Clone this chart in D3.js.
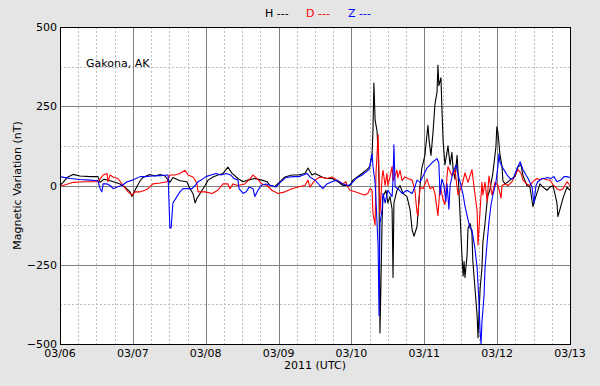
<!DOCTYPE html>
<html>
<head>
<meta charset="utf-8">
<script src="https://cdn.jsdelivr.net/npm/d3@7"></script>
<style>
	body { margin: 0; background: #e5e5e5; }
	svg { display: block; font-family: "DejaVu Sans", sans-serif; }
</style>
</head>
<body>
<div id="chart"></div>
<script>
// hours since 2011-03-06 00:00 UTC, value in nT
const station = 'Gakona, AK'
const dayLabels = ['03/06', '03/07', '03/08', '03/09', '03/10', '03/11', '03/12', '03/13']
const yTicks = [-500, -250, 0, 250, 500]
const seriesNames = ['H', 'D', 'Z']

const hData = [
	[0, 0], [1, 10], [2.3, 25], [4.3, 35], [6.6, 30], [9.9, 28], [12.5, 28], [13.2, 10], [14.5, 20],
	[16.5, 15], [18.1, 10], [19.8, 5], [21.4, -5], [23.1, -20], [23.7, -35], [24.7, -15], [26.4, 15],
	[27.3, 25], [29.6, 35], [31.3, 30], [33, 35], [34.6, 30], [36.2, 10], [37.2, 25], [39.5, 15],
	[41.8, 12], [42.8, -10], [43.8, -25], [44.5, -55], [45.1, -40], [45.5, -35], [46.8, -15], [47.8, 0],
	[48.8, 17], [50.4, 27], [52, 33], [53.7, 38], [55.3, 58], [56.7, 38], [58.6, 22], [60.3, 12],
	[61.9, 17], [64.2, 22], [66.5, 17], [68.2, 12], [69.2, 0], [70.8, -3], [72.5, 12], [74.1, 27],
	[76.4, 33], [78.4, 33], [80.7, 38], [81.7, 55], [83, 33], [84, 38], [86.3, 27], [87.9, 22],
	[89.6, 22], [91.6, 12], [93.2, 0], [94.4, 0], [95.5, 0], [96.5, 17], [98.8, 33], [101.1, 50],
	[102.1, 60], [102.8, 100], [103.1, 175], [103.4, 323], [103.8, 206], [104.4, 175], [104.8, 110],
	[105.1, 0], [105.2, -160], [105.4, -465], [105.7, -320], [106.1, -110], [106.4, -35], [107.4, -15],
	[108, -55], [108.7, -35], [109.4, -75], [109.7, -290], [110, -55], [111, -15], [112, 0], [113, -25],
	[114.3, -35], [115.3, -75], [116, -140], [116.6, -160], [117.6, -130], [117.9, -90], [118.6, 0],
	[119.2, 55], [120.2, 95], [121.2, 190], [121.6, 140], [122.2, 95], [122.9, 170], [123.5, 255],
	[124.2, 295], [124.5, 380], [124.8, 315], [125.5, 340], [125.8, 245], [126.2, 140], [126.8, 65],
	[127.5, 105], [127.8, 125], [128.5, 65], [129.1, 105], [129.5, 50], [130.1, 20], [130.8, 95],
	[131.1, 45], [131.8, -95], [132.4, -220], [132.8, -285], [133.1, -240], [133.4, -290], [134.1, -220],
	[134.4, -135], [135.1, -120], [135.7, -150], [136, -240], [136.7, -325], [137.4, -410], [137.7, -480],
	[138, -410], [138.4, -325], [139, -260], [139.3, -180], [140, -120], [140.7, -50], [141, -30],
	[141.6, -15], [142.6, 40], [143.6, 122], [143.9, 185], [144.3, 165], [144.9, 100], [145.6, 60],
	[145.9, 15], [146.6, 5], [147.6, 12], [148.9, 22], [149.9, 28], [150.9, 60], [151.9, 65],
	[152.5, 32], [153.8, 0], [154.8, -5], [155.8, -67], [156.1, -55], [157.1, -25], [158.1, 5],
	[159.1, -5], [160.4, -15], [161.4, -5], [162.4, 0], [163.7, -55], [164, -98], [164.7, -75],
	[165.7, -40], [167, -5], [168, -15]
]

const dData = [
	[0, -3], [4.3, 10], [8, 12], [12.5, 12], [13.2, 20], [14.2, 33], [15.5, 38], [15.8, 12], [16.5, 33],
	[17.5, 27], [19.1, 22], [20.8, 0], [22.4, -20], [23.7, -30], [24.7, -20], [26.4, -20], [28, -15],
	[29, -10], [30.6, 5], [33, 8], [35.3, 12], [36.2, 33], [37.9, 33], [39.5, 38], [41.2, 48], [42.2, 33],
	[43.8, 27], [44.5, 17], [45.1, 5], [45.5, -20], [47.8, -20], [50.1, -25], [52, -15], [53.7, 5],
	[55.3, 5], [56, -10], [57, 5], [58.6, 0], [60.9, 5], [62.6, 22], [63.6, 33], [64.9, 22], [66.5, 5],
	[68.2, 0], [69.8, -15], [71.8, -25], [74.1, -20], [76.4, -10], [78.4, -5], [80.7, 0], [81.7, 17],
	[82.3, -5], [84, 17], [85.6, 27], [87.9, 22], [89.6, 27], [91.2, 17], [93.2, 5], [94.2, 12],
	[94.5, 0], [95.5, -15], [97.2, -20], [98.8, -25], [100.4, -30], [101.4, -25], [102.1, -10],
	[102.8, -15], [103.1, -88], [103.8, -125], [104.1, 40], [104.8, 160], [105.4, -88], [106.1, 27],
	[106.4, 48], [107.1, 0], [107.7, 38], [108, 0], [108.7, 27], [109.4, 60], [109.7, 15], [111, 48],
	[111.3, 25], [112, 48], [112.7, 15], [113.6, 27], [114.6, 22], [116, 17], [116.9, -15], [117.6, -85],
	[117.9, -95], [118.6, -5], [119.6, -10], [120.9, 20], [121.9, -10], [122.9, -5], [123.5, -25],
	[124.5, -95], [125.2, 0], [126.2, -45], [126.8, -60], [127.5, 30], [127.8, 60], [129.1, 30],
	[130.1, 50], [131.1, -30], [132.4, 0], [133.4, 40], [134.4, 10], [135.7, 50], [136.4, -5],
	[137.4, -80], [137.7, -188], [138.4, -75], [139, 10], [139.3, -30], [140, 10], [140.7, -50],
	[141.3, 30], [142.3, -30], [143.3, 10], [144.3, 0], [145.3, -40], [145.6, 0], [146.6, 5],
	[147.6, 0], [148.9, 12], [149.9, 33], [150.9, 50], [151.9, 38], [152.5, 17], [153.8, 5],
	[154.8, 0], [155.8, 12], [157.1, 22], [158.1, 18], [159.1, 22], [160.4, 18], [161.4, 17],
	[162.4, 3], [163.7, -10], [164.7, -15], [165.7, -10], [167, 12], [168, 0]
]

const zData = [
	[0, 28], [3.3, 22], [6.6, 19], [9.9, 17], [12.5, 15], [13.2, -10], [13.8, -20], [14.2, 5],
	[15.5, 5], [16.5, 0], [17.5, -10], [18.8, -5], [20.4, 0], [22.1, 12], [24, 17], [26.4, 28],
	[28, 28], [30.3, 30], [33, 31], [35.3, 33], [35.6, 33], [36.2, -134], [36.6, -134], [37.2, -55],
	[38.5, -35], [39.5, -20], [40.5, -10], [41.8, -10], [43.5, -10], [44.5, 0], [45.5, 12], [46.5, 17],
	[48.1, 28], [49.7, 33], [51.4, 38], [53, 33], [54.7, 38], [56.3, 33], [57.3, 22], [58.6, 17],
	[59, -10], [60.3, -25], [61.3, -20], [62.3, -5], [63.6, -10], [64.2, -35], [65.2, -15], [66.2, 0],
	[67.8, 5], [69.5, 0], [71.1, -5], [72.8, 12], [74.4, 25], [76.8, 28], [78.7, 28], [80.1, 33],
	[81.4, 38], [82.3, 27], [84, 17], [85.6, 0], [86.6, -10], [87.9, 5], [89.6, 12], [91.2, 17],
	[93.2, 5], [94.9, 0], [95.9, 5], [97.5, 22], [99.5, 33], [101.8, 50], [102.8, 100], [103.1, 60],
	[103.8, 10], [104.4, -110], [104.8, -195], [105.1, -410], [105.3, -200], [105.4, -120], [106.1, -75],
	[106.4, -25], [107.1, -55], [108, -15], [109.4, -35], [109.7, 20], [110, 128], [110.4, -5],
	[111.3, -10], [112.7, -25], [114.3, -15], [116, -25], [116.9, -5], [117.6, 17], [118.6, 10],
	[119.6, 30], [120.9, 55], [121.9, 65], [122.9, 75], [124.2, 85], [124.8, 70], [125.2, -30],
	[125.8, 20], [126.5, 0], [127.1, -50], [127.5, 5], [128.1, -75], [128.5, 0], [129.5, 45],
	[130.5, 65], [131.1, 35], [132.1, 0], [132.8, -30], [133.4, -65], [134.1, -95], [135.1, -135],
	[135.7, -140], [136.7, -200], [137.4, -260], [138, -365], [138.4, -465], [138.7, -500], [139, -430],
	[139.7, -345], [140, -260], [140.7, -180], [141.3, -115], [142, -60], [142.6, -30], [143.6, 10],
	[144.3, 65], [144.6, 100], [144.9, 75], [145.6, 60], [146.2, 50], [147.3, 33], [148.3, 22],
	[149.3, 22], [150.6, 55], [151.6, 75], [152.5, 50], [153.5, 33], [154.2, 22], [155.5, -5],
	[156.1, -55], [156.8, 0], [157.4, 12], [158.8, 22], [159.7, 22], [160.7, 25], [161.7, 22],
	[162.7, 28], [163.7, 12], [165, 17], [166, 28], [167, 28], [168, 25]
]

const chart = {
	draw(element) {
		const width = 600
		const height = 386
		const margin = { top: 27, right: 30, bottom: 42, left: 60 }
		const innerW = width - margin.left - margin.right
		const innerH = height - margin.top - margin.bottom

		const svg = d3
			.select(`#${element}`)
			.append('svg')
			.attr('width', width)
			.attr('height', height)

		svg
			.append('rect')
			.attr('width', width)
			.attr('height', height)
			.attr('fill', '#e5e5e5')

		const g = svg
			.append('g')
			.attr('transform', `translate(${margin.left}, ${margin.top})`)

		const x = d3.scaleLinear().domain([0, 168]).range([0, innerW])
		const y = d3.scaleLinear().domain([-500, 500]).range([innerH, 0])

		g.append('rect')
			.attr('width', innerW)
			.attr('height', innerH)
			.attr('fill', '#fff')

		// minor grid every 6 hours / 125 nT
		const minorX = d3.range(0, 169, 6).filter(h => h % 24 !== 0)
		const minorY = [-375, -125, 125, 375]
		g.selectAll('.minor-x')
			.data(minorX)
			.enter()
			.append('line')
			.attr('x1', d => Math.round(x(d)) + 0.5)
			.attr('x2', d => Math.round(x(d)) + 0.5)
			.attr('y1', 0)
			.attr('y2', innerH)
			.attr('stroke', '#bdbdbd')
			.attr('stroke-dasharray', '2,2')
			.attr('stroke-width', 1)
		g.selectAll('.minor-y')
			.data(minorY)
			.enter()
			.append('line')
			.attr('x1', 0)
			.attr('x2', innerW)
			.attr('y1', d => Math.round(y(d)) + 0.5)
			.attr('y2', d => Math.round(y(d)) + 0.5)
			.attr('stroke', '#bdbdbd')
			.attr('stroke-dasharray', '2,2')
			.attr('stroke-width', 1)

		// major grid at days / 250 nT
		const majorX = d3.range(24, 168, 24)
		g.selectAll('.major-x')
			.data(majorX)
			.enter()
			.append('line')
			.attr('x1', d => Math.round(x(d)) + 0.5)
			.attr('x2', d => Math.round(x(d)) + 0.5)
			.attr('y1', 0)
			.attr('y2', innerH)
			.attr('stroke', '#808080')
			.attr('stroke-width', 1)
		g.selectAll('.major-y')
			.data([-250, 0, 250])
			.enter()
			.append('line')
			.attr('x1', 0)
			.attr('x2', innerW)
			.attr('y1', d => Math.round(y(d)) + 0.5)
			.attr('y2', d => Math.round(y(d)) + 0.5)
			.attr('stroke', '#808080')
			.attr('stroke-width', 1)

		const line = d3
			.line()
			.x(d => x(d[0]))
			.y(d => y(d[1]))

		const colors = ['#000000', '#ff0000', '#0000ff']
		;[hData, dData, zData].forEach((data, i) => {
			g.append('path')
				.datum(data)
				.attr('fill', 'none')
				.attr('stroke', colors[i])
				.attr('stroke-width', 1.1)
				.attr('stroke-linejoin', 'round')
				.attr('d', line)
		})

		g.append('rect')
			.attr('x', 0.5)
			.attr('y', 0.5)
			.attr('width', innerW)
			.attr('height', innerH)
			.attr('fill', 'none')
			.attr('stroke', '#000')

		// tick labels
		g.selectAll('.ytick')
			.data(yTicks)
			.enter()
			.append('text')
			.attr('x', -3)
			.attr('y', d => y(d) + 4)
			.attr('text-anchor', 'end')
			.attr('font-size', 11)
			.text(d => (d < 0 ? `\u2212${Math.abs(d)}` : d))

		g.selectAll('.xtick')
			.data(dayLabels)
			.enter()
			.append('text')
			.attr('x', (d, i) => x(i * 24))
			.attr('y', innerH + 13)
			.attr('text-anchor', 'middle')
			.attr('font-size', 11)
			.text(d => d)

		g.append('text')
			.attr('x', innerW / 2)
			.attr('y', innerH + 25)
			.attr('text-anchor', 'middle')
			.attr('font-size', 11)
			.text('2011 (UTC)')

		svg
			.append('text')
			.attr('transform', `translate(21, ${margin.top + innerH / 2}) rotate(-90)`)
			.attr('text-anchor', 'middle')
			.attr('font-size', 11)
			.text('Magnetic Variation (nT)')

		g.append('text')
			.attr('x', 26)
			.attr('y', 40)
			.attr('font-size', 11)
			.text(station)

		// legend
		const legendX = [265, 306, 348]
		svg
			.selectAll('.legend')
			.data(seriesNames)
			.enter()
			.append('text')
			.attr('x', (d, i) => legendX[i])
			.attr('y', 17)
			.attr('font-size', 11)
			.attr('fill', (d, i) => colors[i])
			.text(d => `${d} ---`)
	}
}

chart.draw('chart')
</script>
</body>
</html>
